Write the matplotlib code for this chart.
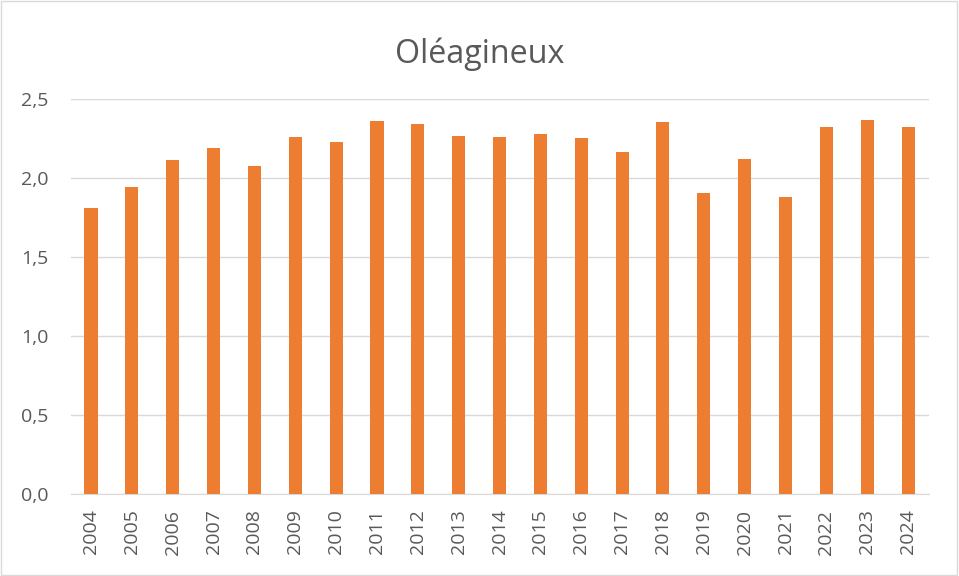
import matplotlib
matplotlib.use("Agg")
import matplotlib.pyplot as plt
from matplotlib.patches import Rectangle

years = [str(y) for y in range(2004, 2025)]
values = [1.81, 1.945, 2.115, 2.19, 2.08, 2.26, 2.23, 2.36, 2.345, 2.27, 2.26,
          2.28, 2.255, 2.165, 2.355, 1.905, 2.12, 1.88, 2.325, 2.37, 2.325]
yticks = [0.0, 0.5, 1.0, 1.5, 2.0, 2.5]

plt.rcParams['font.family'] = ['Open Sans', 'DejaVu Sans']
txt = '#595959'

fig = plt.figure(figsize=(9.59, 5.76), dpi=100)
ax = fig.add_axes([0.0736, 0.1418, 0.8946, 0.6858])

x = range(len(years))
ax.bar(x, values, width=0.32, color='#ED7D31', zorder=3)

ax.set_xlim(-0.5, len(years) - 0.5)
ax.set_ylim(0, 2.5)
ax.set_yticks(yticks)
ax.set_yticklabels(['{:.1f}'.format(v).replace('.', ',') for v in yticks],
                   fontsize=14, color=txt)
ax.set_xticks(list(x))
ax.set_xticklabels(years, rotation=90, fontsize=14, color=txt)
ax.tick_params(axis='both', length=0)
ax.tick_params(axis='y', pad=16)
ax.tick_params(axis='x', pad=11)

ax.grid(axis='y', color='#D9D9D9', linewidth=1, zorder=0)
for s in ['top', 'right', 'left']:
    ax.spines[s].set_visible(False)
ax.spines['bottom'].set_color('#D9D9D9')

fig.text(0.5, 0.8906, 'Oléagineux', ha='center', va='baseline', fontsize=23.2, color=txt)

fig.patches.append(Rectangle((0.001, 0.002), 0.997, 0.996, transform=fig.transFigure,
                             fill=False, edgecolor='#D9D9D9', linewidth=1))

fig.savefig('out.png', dpi=100)
